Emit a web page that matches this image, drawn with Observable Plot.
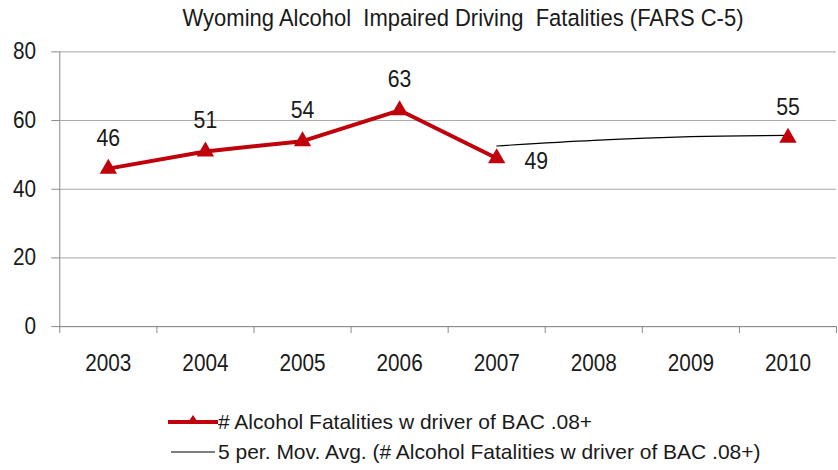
<!DOCTYPE html>
<html>
<head>
<meta charset="utf-8">
<script src="https://cdn.jsdelivr.net/npm/d3@7"></script>
<script src="https://cdn.jsdelivr.net/npm/@observablehq/plot@0.6"></script>
<style>
  html, body { margin: 0; padding: 0; background: #fff; overflow: hidden; }
  body { width: 838px; height: 470px; position: relative; font-family: "Liberation Sans", Arial, sans-serif; color: #1a1a1a; }
  #title { position: absolute; top: 5px; left: 0; width: 926px; text-align: center; font-size: 22px; white-space: pre; transform: scaleY(1.08); }
  #chart { position: absolute; top: 0; left: 0; }
  .leg { position: absolute; display: flex; align-items: center; font-size: 21px; white-space: nowrap; }
  .leg svg { display: block; }
</style>
</head>
<body>
<div id="title">Wyoming Alcohol  Impaired Driving  Fatalities (FARS C-5)</div>
<div id="chart"></div>
<div class="leg" style="left:168px; top:408px;">
  <svg width="50" height="28"><line x1="0" y1="14" x2="50" y2="14" stroke="#c0000b" stroke-width="4"/><path d="M25,7 L31,16 L19,16 Z" fill="#c0000b"/></svg>
  <span># Alcohol Fatalities w driver of BAC .08+</span>
</div>
<div class="leg" style="left:171px; top:438px;">
  <svg width="47" height="28"><line x1="0" y1="14" x2="44" y2="14" stroke="#000" stroke-width="1.2"/></svg>
  <span>5 per. Mov. Avg. (# Alcohol Fatalities w driver of BAC .08+)</span>
</div>
<script>
const years = [2003, 2004, 2005, 2006, 2007, 2008, 2009, 2010];
const fatalities = [46, 51, 54, 63, 49, null, null, 55];
const avgYears = [2007, 2008, 2009, 2010];
const movingAvg = [52.6, 54.25, 55.33, 55.67];
const yTicks = [0, 20, 40, 60, 80];

const red = "#c0000b";
const data = years.map((y, i) => ({year: y, value: fatalities[i]}));
const valid = data.filter(d => d.value != null);
const avg = avgYears.map((y, i) => ({year: y, value: movingAvg[i]}));
const bounds = [years[0] - 0.5, ...years.map(y => y + 0.5)];

const chart = Plot.plot({
  width: 848,
  height: 392,
  marginTop: 52,
  marginBottom: 62,
  marginLeft: 60,
  marginRight: 2,
  x: {domain: [years[0] - 0.5, years[years.length - 1] + 0.5]},
  y: {domain: [0, 80]},
  style: {fontFamily: "'Liberation Sans', Arial, sans-serif", fontSize: "21px", color: "#1a1a1a", background: "transparent"},
  marks: [
    Plot.gridY(yTicks, {stroke: "#a6a6a6", strokeOpacity: 1}),
    Plot.axisY(yTicks, {tickSize: 8, tickPadding: 16, stroke: "#888", label: null, fontSize: 21}),
    Plot.ruleX([bounds[0]], {stroke: "#888"}),
    Plot.ruleY([0], {stroke: "#888"}),
    Plot.axisX(bounds, {tickSize: 7, tickFormat: () => "", stroke: "#888", label: null}),
    Plot.axisX(years, {tickSize: 0, tickPadding: 29, tickFormat: d => String(d), label: null, fontSize: 21}),
    Plot.line(avg, {x: "year", y: "value", curve: "catmull-rom", stroke: "#000", strokeWidth: 1.2}),
    Plot.line(data, {x: "year", y: "value", stroke: red, strokeWidth: 4}),
    Plot.dot(valid, {x: "year", y: "value", symbol: "triangle", r: 6.5, fill: red}),
    Plot.text(valid.filter(d => d.year !== 2007), {x: "year", y: "value", text: d => String(d.value), dy: -31, fontSize: 21.5}),
    Plot.text(valid.filter(d => d.year === 2007), {x: "year", y: "value", text: d => String(d.value), dx: 40, dy: 3, fontSize: 21.5})
  ]
});
document.getElementById("chart").appendChild(chart);

// stretch chart texts vertically a little, to match the reference's tall glyphs
const s = 1.12;
chart.querySelectorAll("text").forEach(t => {
  const b = t.getBBox();
  const cy = b.y + b.height / 2;
  const prev = t.getAttribute("transform") || "";
  t.setAttribute("transform", `${prev} translate(0 ${cy}) scale(1 ${s}) translate(0 ${-cy})`.trim());
});
</script>
</body>
</html>
